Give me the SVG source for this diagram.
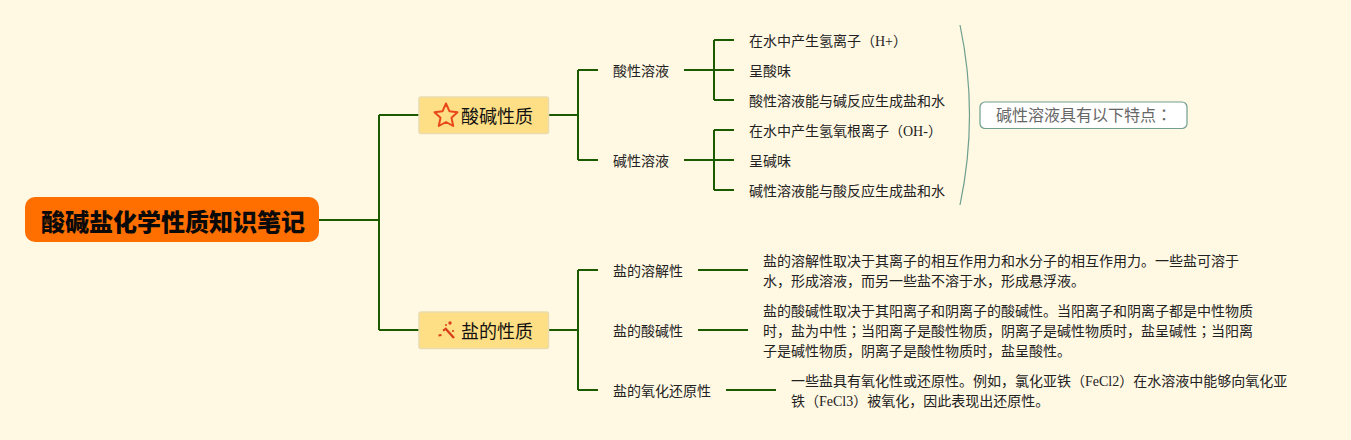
<svg xmlns="http://www.w3.org/2000/svg" width="1351" height="440" viewBox="0 0 1351 440">
<style>
text{font-family:"Liberation Serif","Noto Sans CJK SC",serif;font-size:14px;fill:#222}
.root{font-size:24px;font-weight:900;fill:#0a0a0a;font-family:"Noto Sans CJK SC",sans-serif}
.main{font-size:18px;fill:#111}
.tc{font-family:"Noto Sans CJK TC",sans-serif}
.conn{fill:none;stroke:#1c5a00;stroke-width:2}
.box{fill:#ffdf85;stroke:#eadcae;stroke-width:1.5}
.ico{fill:none;stroke:#e8481c;stroke-width:2;stroke-linejoin:round}
</style>
<rect width="1351" height="440" fill="#fff8e3"/>
<g id="connectors" class="conn">
<path d="M319 220H379M379 115V330M379 115H419M379 330H419"/>
<path d="M549 115H578M578 70V160M578 70H598M578 160H598"/>
<path d="M684 70H734M714 40V100M714 40H734M714 100H734"/>
<path d="M684 160H734M714 130V190M714 130H734M714 190H734"/>
<path d="M549 330H578M578 270V390M578 270H598M578 390H598"/>
<path d="M698 270H748M698 330H748M726 390H776"/>
</g>
<path id="boundary" d="M960 25Q979 115 960 205" fill="none" stroke="#6f9f8f" stroke-width="1.200"/>
<g id="root"><rect x="25" y="197" width="294" height="45" rx="10" fill="#ff6f00"/><text class="root" x="41" y="231">酸碱盐化学性质知识笔记</text></g>
<g id="acid-base">
<rect class="box" x="419" y="97" width="129.500" height="36.500" rx="2"/>
<path class="ico" d="M446 103.500L449.400 111.200L457.500 112.200L451.500 117.800L453.200 126L446 122L438.800 126L440.500 117.800L434.500 112.200L442.600 111.200Z"/>
<text class="main" x="461" y="122.500">酸碱性质</text></g>
<g id="salt">
<rect class="box" x="419" y="312" width="129.500" height="36.500" rx="2"/>
<path d="M445 328L454 338" fill="none" stroke="#d8401c" stroke-width="2.400"/>
<path d="M438.500 335.500L441.500 335M443 330.500L445 329.500" fill="none" stroke="#d8401c" stroke-width="2"/>
<circle cx="450" cy="323" r="1.700" fill="#d8401c"/><circle cx="453" cy="331" r="1.100" fill="#d8401c"/><circle cx="446" cy="325" r="1" fill="#d8401c"/>
<text class="main" x="461" y="337.500">盐的性质</text></g>
<g id="acid-sol"><text x="613" y="76">酸性溶液</text></g>
<g id="base-sol"><text x="613" y="166">碱性溶液</text></g>
<g id="a1"><text x="749" y="46">在水中产生氢离子（H+）</text></g>
<g id="a2"><text x="749" y="76">呈酸味</text></g>
<g id="a3"><text x="749" y="106">酸性溶液能与碱反应生成盐和水</text></g>
<g id="b1"><text x="749" y="136">在水中产生氢氧根离子（OH-）</text></g>
<g id="b2"><text x="749" y="166">呈碱味</text></g>
<g id="b3"><text x="749" y="196">碱性溶液能与酸反应生成盐和水</text></g>
<g id="summary"><rect x="980" y="102" width="207" height="26.500" rx="5" fill="#fff" stroke="#6f9f8f" stroke-width="1.200"/><text x="996" y="121" style="font-size:16px;fill:#666">碱性溶液具有以下特点<tspan class="tc">：</tspan></text></g>
<g id="s1"><text x="613" y="276">盐的溶解性</text></g>
<g id="s2"><text x="613" y="336">盐的酸碱性</text></g>
<g id="s3"><text x="613" y="396">盐的氧化还原性</text></g>
<g id="s1t"><text x="763" y="266">盐的溶解性取决于其离子的相互作用力和水分子的相互作用力。一些盐可溶于</text><text x="763" y="286">水，形成溶液，而另一些盐不溶于水，形成悬浮液。</text></g>
<g id="s2t"><text x="763" y="316">盐的酸碱性取决于其阳离子和阴离子的酸碱性。当阳离子和阴离子都是中性物质</text><text x="763" y="336">时，盐为中性<tspan class="tc">；</tspan>当阳离子是酸性物质，阴离子是碱性物质时，盐呈碱性<tspan class="tc">；</tspan>当阳离</text><text x="763" y="356">子是碱性物质，阴离子是酸性物质时，盐呈酸性。</text></g>
<g id="s3t"><text x="791" y="386">一些盐具有氧化性或还原性。例如，氯化亚铁（FeCl2）在水溶液中能够向氧化亚</text><text x="791" y="406">铁（FeCl3）被氧化，因此表现出还原性。</text></g>
</svg>
